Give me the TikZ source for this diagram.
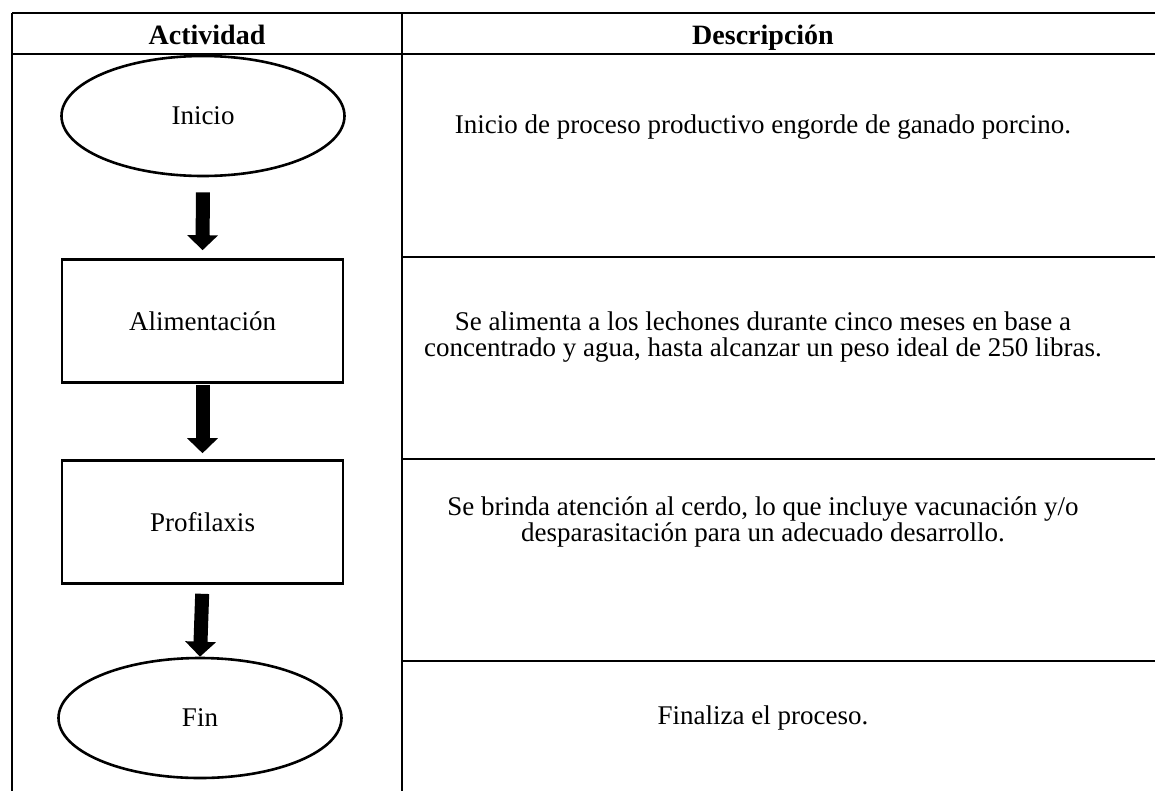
\documentclass[tikz,border=0pt]{standalone}
\usepackage{fontspec}
\setmainfont{Liberation Serif}
\usetikzlibrary{arrows.meta, shapes.geometric}

\begin{document}
\begin{tikzpicture}[x=1pt, y=-1pt,
	grid/.style={line width=1.4pt},
	terminal/.style={draw, ellipse, line width=2.6pt, minimum width=283pt, minimum height=120pt, inner sep=0pt, font=\fontsize{27}{26}\selectfont},
	process/.style={draw, rectangle, line width=2.6pt, minimum width=281pt, minimum height=123pt, inner sep=0pt, font=\fontsize{27}{26}\selectfont},
	head/.style={inner sep=0pt, anchor=base, font=\fontsize{28}{26}\selectfont\bfseries},
	desc/.style={inner sep=0pt, align=center, font=\fontsize{27}{26}\selectfont},
	flow/.style={line width=14pt, -{Triangle[width=30pt, length=15pt]}}]
	\useasboundingbox (0,0) rectangle (1155,790);
	%table
	\draw[grid] (12,13) -- (1170,13);
	\draw[grid] (12,54) -- (1170,54);
	\draw[grid] (12,13) -- (12,800);
	\draw[grid] (402,13) -- (402,800);
	\foreach \y in {257,459,661}
		\draw[grid] (402,\y) -- (1170,\y);
	%headers
	\node[head] (hact) at (207,44) {Actividad};
	\node[head] (hdesc) at (763,44) {Descripción};
	%flow
	\node[terminal] (inicio) at (203,116) {Inicio};
	\node[process] (alim) at (202.5,321) {Alimentación};
	\node[process] (profi) at (202.5,522) {Profilaxis};
	\node[terminal] (fin) at (200,718) {Fin};
	%arrows
	\draw[flow, shorten <=15pt, shorten >=8pt] (inicio.south) -- (alim.north);
	\draw[flow, shorten <=1pt, shorten >=6pt] (alim.south) -- (profi.north);
	\draw[flow, shorten <=9pt] (profi.south) -- (fin.north);
	%descriptions
	\node[desc] (dinicio) at (763,127) {Inicio de proceso productivo engorde de ganado porcino.};
	\node[desc] (dalim) at (763,337) {Se alimenta a los lechones durante cinco meses en base a\\concentrado y agua, hasta alcanzar un peso ideal de 250 libras.};
	\node[desc] (dprofi) at (763,522) {Se brinda atención al cerdo, lo que incluye vacunación y/o\\desparasitación para un adecuado desarrollo.};
	\node[desc] (dfin) at (763,718) {Finaliza el proceso.};
\end{tikzpicture}
\end{document}
